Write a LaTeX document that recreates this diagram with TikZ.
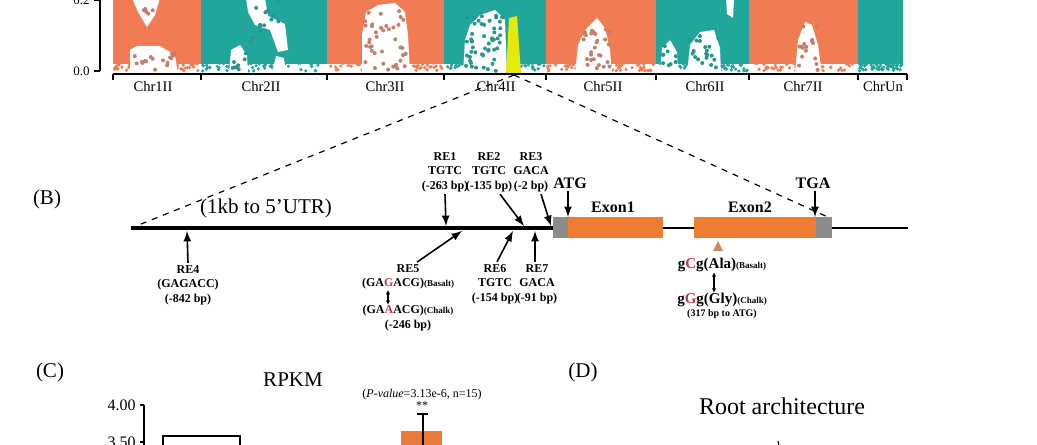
\documentclass[tikz,border=0pt]{standalone}
\usepackage{fontspec}
\setmainfont{Liberation Serif}
\usetikzlibrary{positioning,arrows.meta}

% one chromosome of the Manhattan plot: x0, x1, colour
\newcommand{\chrblock}[3]{%
  \fill[#3] (#1,-2) rectangle (#2,64);
  \foreach \k in {1,...,70}{\fill[#3] ({#1+1+rnd*(#2-#1-2)},{61+rnd*10}) circle (0.9pt);}
}
% loose points: x, y, width, height, number, colour
\newcommand{\scatterdots}[6]{%
  \foreach \k in {1,...,#5}{\fill[#6] ({#1+rnd*#3},{#2+rnd*#4}) circle (1pt);}
}

\begin{document}
\begin{tikzpicture}[x=0.5pt,y=-0.5pt,>=latex]
  % Local definitions
  \def\strainfont{\fontsize{4.5}{5}\selectfont}
  \pgfmathsetseed{11}

  % Colors
  \definecolor{manorange}{RGB}{241,123,82}
  \definecolor{manteal}{RGB}{32,166,154}
  \definecolor{orangedot}{RGB}{196,126,106}
  \definecolor{tealdot}{RGB}{40,150,140}
  \definecolor{exoncolor}{RGB}{237,125,49}
  \definecolor{utrcolor}{RGB}{140,140,140}
  \definecolor{snpcolor}{RGB}{200,50,70}
  \definecolor{markcolor}{RGB}{205,140,95}
  \definecolor{barcolor}{RGB}{232,122,58}
  \colorlet{highlight}{yellow!90!green}

  % Styles
  \tikzstyle{axis}=[line width=0.7pt]
  \tikzstyle{chr label}=[font=\fontsize{7.3}{8}\selectfont]
  \tikzstyle{tick label}=[font=\fontsize{6.5}{7}\selectfont,anchor=east,inner sep=1pt]
  \tikzstyle{panel}=[font=\fontsize{10.5}{12}\selectfont]
  \tikzstyle{re label}=[font=\bfseries\fontsize{6}{7.25}\selectfont,align=center,inner sep=1pt]
  \tikzstyle{site}=[font=\bfseries\fontsize{8}{9}\selectfont,inner sep=1pt]
  \tikzstyle{pointer}=[->,line width=0.8pt]
  \tikzstyle{swap}=[{Latex[length=2.2pt,width=2.2pt]}-{Latex[length=2.2pt,width=2.2pt]},
    line width=0.6pt,shorten <=-1pt,shorten >=-1pt]
  \tikzstyle{zoom line}=[dashed,line width=0.6pt]

  \useasboundingbox (0,0) rectangle (1037,444);

  % (A) Manhattan plot
  \foreach \a/\b/\c in {113/201/manorange,201/327/manteal,327/444/manorange,
      444/546/manteal,546/656/manorange,656/749/manteal,749/858/manorange,858/903/manteal}
    {\chrblock{\a}{\b}{\c}}

  \fill[white] (132,-2) -- (160,-2) -- (155,15) -- (147,27) -- (138,12) -- cycle;
  \fill[white] (130,74) -- (130,50) -- (137,46) -- (160,46) -- (175,55) -- (178,74) -- cycle;
  \fill[white] (246,-2) -- (265,-2) -- (268,16) -- (285,24) -- (288,50) -- (278,52)
    -- (270,30) -- (255,25) -- (248,12) -- cycle;
  \fill[white] (229,74) -- (231,50) -- (240,45) -- (247,55) -- (248,74) -- cycle;
  \fill[white] (272,74) -- (276,56) -- (284,58) -- (286,74) -- cycle;
  \fill[white] (362,74) -- (362,35) -- (366,12) -- (378,5) -- (395,3) -- (405,12)
    -- (408,35) -- (410,74) -- cycle;
  \fill[white] (463,74) -- (465,40) -- (470,25) -- (480,15) -- (495,10) -- (505,20)
    -- (507,74) -- cycle;
  \fill[white] (575,74) -- (578,45) -- (585,30) -- (597,18) -- (605,28) -- (610,50)
    -- (612,74) -- cycle;
  \fill[white] (660,74) -- (662,48) -- (670,40) -- (677,52) -- (678,74) -- cycle;
  \fill[white] (687,74) -- (690,45) -- (700,32) -- (714,30) -- (720,48) -- (721,74) -- cycle;
  \fill[white] (726,-2) -- (734,-2) -- (733,18) -- (727,14) -- cycle;
  \fill[white] (795,74) -- (798,40) -- (805,22) -- (812,25) -- (818,45) -- (822,74) -- cycle;

  \scatterdots{133}{50}{42}{20}{18}{orangedot}
  \scatterdots{140}{2}{15}{12}{5}{orangedot}
  \scatterdots{232}{50}{14}{20}{8}{tealdot}
  \scatterdots{250}{2}{30}{45}{14}{tealdot}
  \scatterdots{365}{10}{42}{60}{40}{orangedot}
  \scatterdots{466}{14}{38}{57}{50}{tealdot}
  \scatterdots{580}{25}{30}{46}{28}{orangedot}
  \scatterdots{662}{45}{14}{26}{9}{tealdot}
  \scatterdots{690}{35}{30}{36}{20}{tealdot}
  \scatterdots{799}{25}{20}{46}{16}{orangedot}

  \fill[highlight] (509,18) -- (517,16) -- (521,73) -- (506,73) -- cycle;

  \draw[axis] (100,-5) -- (100,71);
  \foreach \y/\t in {0/0.2,71/0.0}{
    \draw[axis] (94,\y) -- (100,\y);
    \node[tick label] (ytick\y) at (92,\y) {\t};
  }
  \draw[axis] (113,74) -- (907,74);
  \foreach \x in {113,201,327,444,546,656,749,858,907}
    \draw[axis] (\x,74) -- (\x,80);
  \foreach \x/\t in {153/Chr1II,261/Chr2II,385/Chr3II,496/Chr4II,603/Chr5II,
      705/Chr6II,803/Chr7II,883/ChrUn}
    \node[chr label] (\t) at (\x,87) {\t};

  % (B) gene model
  \node[panel] (panelB) at (47,199) {(B)};
  \coordinate (peak) at (514,75);
  \coordinate (gstart) at (131,228);
  \coordinate (gend) at (830,218);
  \draw[zoom line] (peak) -- (gstart);
  \draw[zoom line] (peak) -- (gend);

  \draw[line width=1.6pt] (gstart) -- (553,228);
  \draw[line width=1pt] (663,228) -- (694,228);
  \draw[line width=1pt] (832,228) -- (908,228);
  \fill[utrcolor] (553,217) rectangle (568,238);
  \fill[exoncolor] (568,217) rectangle (663,238);
  \fill[exoncolor] (694,217) rectangle (816,238);
  \fill[utrcolor] (816,217) rectangle (832,238);

  \node[font=\fontsize{10.5}{12}\selectfont] (promoter) at (266,208) {(1kb to 5'UTR)};
  \node[site] (exon1) at (613,207) {Exon1};
  \node[site] (exon2) at (750,207) {Exon2};
  \node[site] (atg) at (570,183) {ATG};
  \node[site] (tga) at (813,183) {TGA};
  \draw[pointer] (atg.south -| 568,0) -- (568,217);
  \draw[pointer] (tga.south -| 815,0) -- (815,217);

  % elements above the line
  \node[re label] (re1) at (445,172) {RE1\\TGTC\\(-263 bp)};
  \node[re label] (re2) at (489,172) {RE2\\TGTC\\(-135 bp)};
  \node[re label] (re3) at (531,172) {RE3\\GACA\\(-2 bp)};
  \draw[pointer] (re1.south) -- (446,226);
  \draw[pointer] ([xshift=5.5pt]re2.south) -- (524,226);
  \draw[pointer] ([xshift=5pt]re3.south) -- (551,226);

  % elements below the line
  \node[re label] (re4) at (188,285) {RE4\\(GAGACC)\\(-842 bp)};
  \node[re label] (re5) at (408,277) {RE5\\(GA{\color{snpcolor}G}ACG){\strainfont(Basalt)}};
  \node[re label] (re5b) at (408,318) {(GA{\color{snpcolor}A}ACG){\strainfont(Chalk)}\\(-246 bp)};
  \node[re label] (re6) at (495,284) {RE6\\TGTC\\(-154 bp)};
  \node[re label] (re7) at (537,284) {RE7\\GACA\\(-91 bp)};
  \draw[pointer] (re4.north) -- (187,231);
  \draw[pointer] ([xshift=4.5pt]re5.north) -- (462,231);
  \draw[pointer] ([xshift=1pt]re6.north) -- (513,231);
  \draw[pointer] ([xshift=-1pt]re7.north) -- (535,231);
  \draw[swap] ([xshift=-10pt]re5.south) -- ([xshift=-10pt]re5b.north);

  % SNP in exon 2
  \fill[markcolor] (713,251) -- (718,241) -- (723,251) -- cycle;
  \node[site,font=\bfseries\fontsize{7.5}{8}\selectfont] (snpa) at (722,265)
    {g{\color{snpcolor}C}g(Ala){\strainfont(Basalt)}};
  \node[site,font=\bfseries\fontsize{7.5}{8}\selectfont] (snpb) at (722,300)
    {g{\color{snpcolor}G}g(Gly){\strainfont(Chalk)}};
  \node[re label,font=\bfseries\fontsize{5}{6}\selectfont] (snppos) at (722,314) {(317 bp to ATG)};
  \draw[swap] ([xshift=-4pt]snpa.south) -- ([xshift=-4pt]snpb.north);

  % (C) expression
  \node[panel] (panelC) at (50,372) {(C)};
  \node[panel] (rpkm) at (293,380) {RPKM};
  \draw[axis] (144,405) -- (144,450);
  \foreach \y/\t in {405/4.00,442/3.50}{
    \draw[axis] (140,\y) -- (144,\y);
    \node[tick label,font=\fontsize{8}{9}\selectfont] (rtick\y) at (138,\y) {\t};
  }
  \draw[line width=0.8pt] (163,450) -- (163,436) -- (240,436) -- (240,450);
  \fill[barcolor] (401,431) rectangle (442,450);
  \draw[line width=0.6pt] (423,450) -- (423,414);
  \draw[line width=0.6pt] (417,414) -- (428,414);
  \node[font=\fontsize{6}{7}\selectfont] (pval) at (422,395) {(\textit{P-value}=3.13e-6, n=15)};
  \node[font=\fontsize{6}{7}\selectfont] (stars) at (422,406) {**};

  % (D) roots
  \node[panel] (panelD) at (583,372) {(D)};
  \node[font=\fontsize{12}{14}\selectfont] (roots) at (782,406) {Root architecture};
  \draw[line width=0.6pt] (778,441) -- (779,446);

\end{tikzpicture}
\end{document}
